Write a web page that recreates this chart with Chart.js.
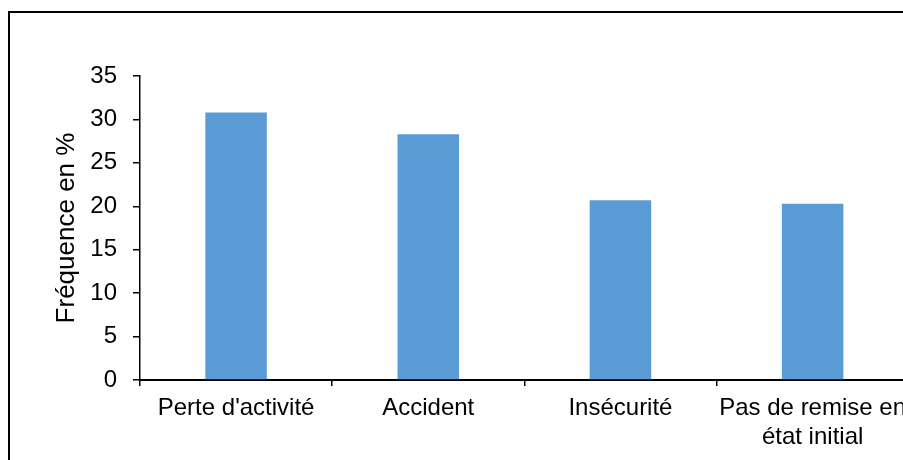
<!DOCTYPE html>
<html>
<head>
<meta charset="utf-8">
<script src="https://cdn.jsdelivr.net/npm/chart.js@4"></script>
<style>
    body { margin: 0; overflow: hidden; background: #fff; }
    #frame { position: absolute; left: 8px; top: 11px; width: 1000px; height: 600px; border: 2px solid #000; }
    canvas { display: block; }
</style>
</head>
<body>
<div id="frame"><canvas id="bars" width="904" height="470"></canvas></div>
<script>
const categories = ["Perte d'activité", "Accident", "Insécurité", ["Pas de remise en", "état initial"]]
const frequences = [30.8, 28.3, 20.7, 20.3]
const yTicks = [0, 5, 10, 15, 20, 25, 30, 35]

window.onload = function () {
    let context = document.querySelector("#bars").getContext('2d')
    new Chart(context, {
        type: 'bar',
        data: {
            labels: categories,
            datasets: [{
                data: frequences,
                backgroundColor: "#5B9BD5",
                barPercentage: 0.32,
                categoryPercentage: 1
            }]
        },
        options: {
            responsive: false,
            animation: false,
            devicePixelRatio: 1,
            layout: { padding: { top: 63, right: 0, left: 0, bottom: 0 } },
            plugins: { legend: { display: false }, tooltip: { enabled: false } },
            scales: {
                x: {
                    grid: { drawOnChartArea: false, color: "#000", lineWidth: 1.5, tickLength: 6, offset: true },
                    border: { color: "#000", width: 2 },
                    ticks: { color: "#000", font: { family: "Liberation Sans", size: 24 }, padding: 8, maxRotation: 0, autoSkip: false },
                    afterFit: function (scale) { scale.height = 103 }
                },
                y: {
                    min: 0,
                    max: 35,
                    afterBuildTicks: function (scale) { scale.ticks = yTicks.map(v => ({ value: v })) },
                    grid: { drawOnChartArea: false, color: "#000", lineWidth: 1.5, tickLength: 7 },
                    border: { color: "#000", width: 1.5 },
                    ticks: { color: "#000", font: { family: "Liberation Sans", size: 24 }, padding: 16 },
                    title: { display: true, text: "Fréquence en %", color: "#000", font: { family: "Liberation Sans", size: 26 }, padding: { top: 41, bottom: 0 } },
                    afterFit: function (scale) { scale.width = 130 }
                }
            }
        }
    });
}
</script>
</body>
</html>
